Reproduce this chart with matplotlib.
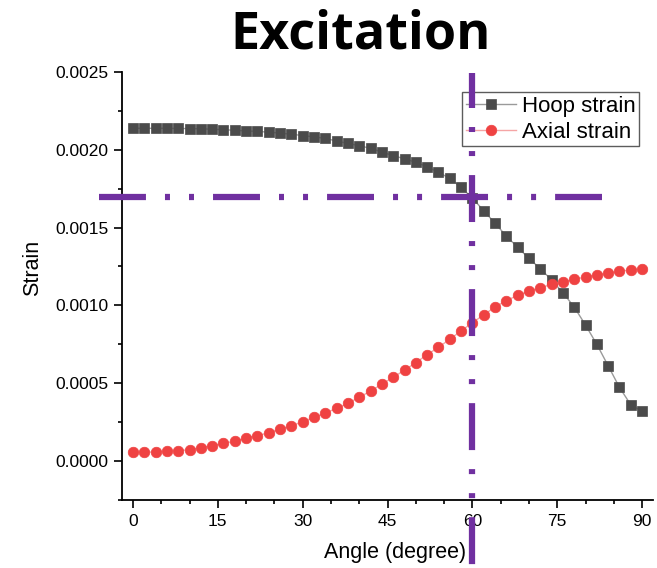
import numpy as np
import matplotlib
matplotlib.use("Agg")
import matplotlib.pyplot as plt
from matplotlib.ticker import MultipleLocator, FormatStrFormatter

plt.rcParams["font.family"] = ["Liberation Sans", "DejaVu Sans"]
plt.rcParams["lines.scale_dashes"] = False

angles = [0, 2, 4, 6, 8, 10, 12, 14, 16, 18, 20, 22, 24, 26, 28, 30, 32, 34, 36, 38,
          40, 42, 44, 46, 48, 50, 52, 54, 56, 58, 60, 62, 64, 66, 68, 70, 72, 74, 76, 78,
          80, 82, 84, 86, 88, 90]

hoop_strain = [0.002139, 0.002139, 0.002139, 0.002139, 0.002138, 0.002137, 0.002136, 0.002133,
               0.002130, 0.002126, 0.002122, 0.002119, 0.002114, 0.002108, 0.002101, 0.002092,
               0.002084, 0.002074, 0.002057, 0.002042, 0.002027, 0.002010, 0.001986, 0.001963,
               0.001943, 0.001920, 0.001892, 0.001856, 0.001817, 0.001759, 0.001690, 0.001609,
               0.001528, 0.001446, 0.001373, 0.001302, 0.001236, 0.001163, 0.001081, 0.000989,
               0.000873, 0.000749, 0.000611, 0.000472, 0.000360, 0.000318]

axial_strain = [0.000054, 0.000055, 0.000056, 0.000060, 0.000064, 0.000071, 0.000084, 0.000097,
                0.000112, 0.000125, 0.000146, 0.000161, 0.000180, 0.000204, 0.000225, 0.000251,
                0.000279, 0.000307, 0.000337, 0.000369, 0.000408, 0.000448, 0.000492, 0.000537,
                0.000582, 0.000631, 0.000682, 0.000730, 0.000781, 0.000835, 0.000888, 0.000938,
                0.000989, 0.001030, 0.001064, 0.001092, 0.001113, 0.001135, 0.001150, 0.001167,
                0.001182, 0.001195, 0.001206, 0.001219, 0.001227, 0.001234]

# reference cross-hair drawn over the plot
ref_angle = 60
ref_strain = 0.0017
h_span = [-6.06, 82.87]
v_span = [0.002495, -0.0009]

fig = plt.figure(figsize=(6.57, 5.68), dpi=100)
ax = fig.add_axes([0.1852, 0.12051, 0.8093, 0.75238])

ax.plot(angles, hoop_strain, color="#9a9a9a", lw=1.0, marker="s", ms=6.8,
        mfc="#4b4b4b", mec="#4b4b4b", mew=0.5, label="Hoop strain", zorder=3)
ax.plot(angles, axial_strain, color="#f5a5a5", lw=1.0, marker="o", ms=7.6,
        mfc="#ef4242", mec="#ef4242", mew=0.5, label="Axial strain", zorder=3)

ax.set_xlim(-2, 92)
ax.set_ylim(-0.00025, 0.0025)
ax.xaxis.set_major_locator(MultipleLocator(15))
ax.xaxis.set_minor_locator(MultipleLocator(5))
ax.yaxis.set_major_locator(MultipleLocator(0.0005))
ax.yaxis.set_minor_locator(MultipleLocator(0.00025))
ax.yaxis.set_major_formatter(FormatStrFormatter("%.4f"))

for side in ["top", "right"]:
    ax.spines[side].set_visible(False)
for side in ["left", "bottom"]:
    ax.spines[side].set_linewidth(1.3)

ax.tick_params(which="major", length=5.5, width=1.2, labelsize=12.5, direction="out")
ax.tick_params(which="minor", length=3, width=1.2, direction="out")
ax.tick_params(axis="x", pad=5)
ax.tick_params(axis="y", pad=4)

ax.set_xlabel("Angle (degree)", fontsize=15.5, va="baseline")
ax.xaxis.set_label_coords(0.5136, -0.1368)
ax.set_ylabel("Strain", fontsize=15.5, va="center")
ax.yaxis.set_label_coords(-0.1668, 0.5418)

leg = ax.legend(loc="upper right", bbox_to_anchor=(0.9726, 0.838), bbox_transform=fig.transFigure,
                fontsize=16, frameon=True, fancybox=False, borderpad=0.16, labelspacing=0.225,
                handlelength=2.25, handletextpad=0.27, borderaxespad=0)
leg.get_frame().set_edgecolor("#333333")
leg.get_frame().set_linewidth(1.0)

dash = [33.8, 13.7, 3.6, 13.7, 3.6, 13.7]
ax.plot(h_span, [ref_strain, ref_strain], color="#7030a0", lw=4.5,
        linestyle=(0, dash), clip_on=False, zorder=10)
ax.plot([ref_angle, ref_angle], v_span, color="#7030a0", lw=4.5,
        linestyle=(8.6, dash), clip_on=False, zorder=10)

fig.text(0.5495, 1 - 48.3 / 568, "Excitation", fontsize=37.5, fontweight="bold",
         family="Open Sans", ha="center", va="baseline")

fig.savefig("out.png", dpi=100)
